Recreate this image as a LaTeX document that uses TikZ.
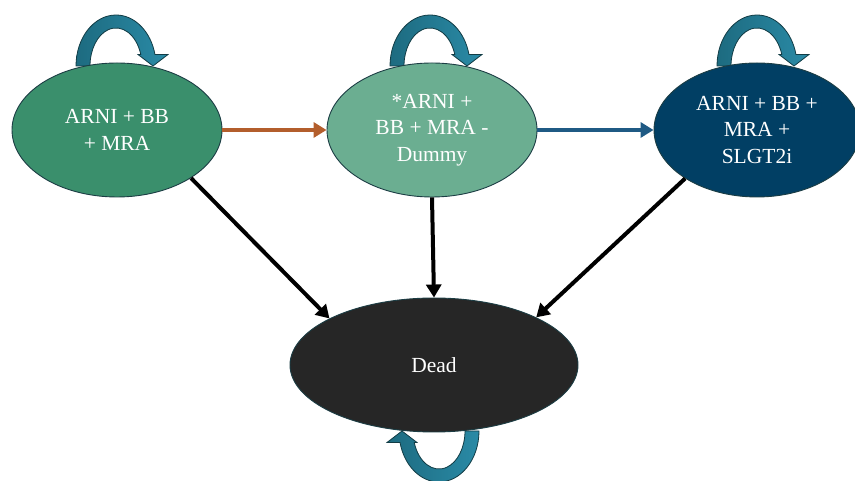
\documentclass[tikz,border=0pt]{standalone}
\usepackage{fontspec}
\setmainfont{Liberation Serif}
\usetikzlibrary{shapes.geometric,arrows.meta}
\definecolor{cA}{HTML}{3A8F6C}
\definecolor{cB}{HTML}{6BAE91}
\definecolor{cC}{HTML}{013F64}
\definecolor{cD}{HTML}{262626}
\definecolor{edge}{HTML}{1C3D44}
\definecolor{orng}{HTML}{B35E2C}
\definecolor{blu}{HTML}{1F5A84}
\definecolor{loopdark}{HTML}{1D6B80}
\definecolor{looplight}{HTML}{2A8AA6}
\definecolor{loopedge}{HTML}{123C45}
\tikzset{
  state/.style={ellipse,draw=edge,line width=0.9pt,text=white,align=center,
    inner sep=0pt,minimum width=210pt,minimum height=134pt,
    font=\fontsize{21.5}{26.5}\selectfont},
  conn/.style={line width=4pt,-{Triangle[length=13pt,width=15pt]}},
  loopy/.pic={
    \path[pic actions] (-40,0) arc[start angle=180,end angle=13,x radius=40,y radius=51]
      -- (52,11.5) -- (37,0) -- (22,11.5) -- (24.8,11.5)
      arc[start angle=17.6,end angle=180,x radius=26,y radius=38] -- cycle;
  },
  loopstyle/.style={draw=loopedge,line width=0.8pt,left color=loopdark,right color=looplight}
}
\begin{document}
\begin{tikzpicture}[x=1pt,y=1pt]
\useasboundingbox (0,0) rectangle (855,481);
\begin{scope}
\clip (0,0) rectangle (855,481);
\pic[loopstyle] at (116,415) {loopy};
\pic[loopstyle] at (430,415) {loopy};
\pic[loopstyle] at (757,415) {loopy};
\pic[loopstyle,rotate=180] at (439,50) {loopy};
\node[state,fill=cA] (a) at (117,351) {ARNI + BB\\+ MRA};
\node[state,fill=cB] (b) at (432,351) {*ARNI +\\BB + MRA -\\Dummy};
\node[state,fill=cC,minimum width=206pt] (c) at (757,351) {ARNI + BB +\\MRA +\\SLGT2i};
\node[state,fill=cD,minimum width=288pt] (d) at (434,116) {Dead};
\draw[conn,orng] (a.east) -- (b.west);
\draw[conn,blu] (b.east) -- (c.west);
\draw[conn,black] (a.-33) -- (d.156);
\draw[conn,black] (b.south) -- (d.north);
\draw[conn,black] (c.-146) -- (d.25);
\end{scope}
\end{tikzpicture}
\end{document}
